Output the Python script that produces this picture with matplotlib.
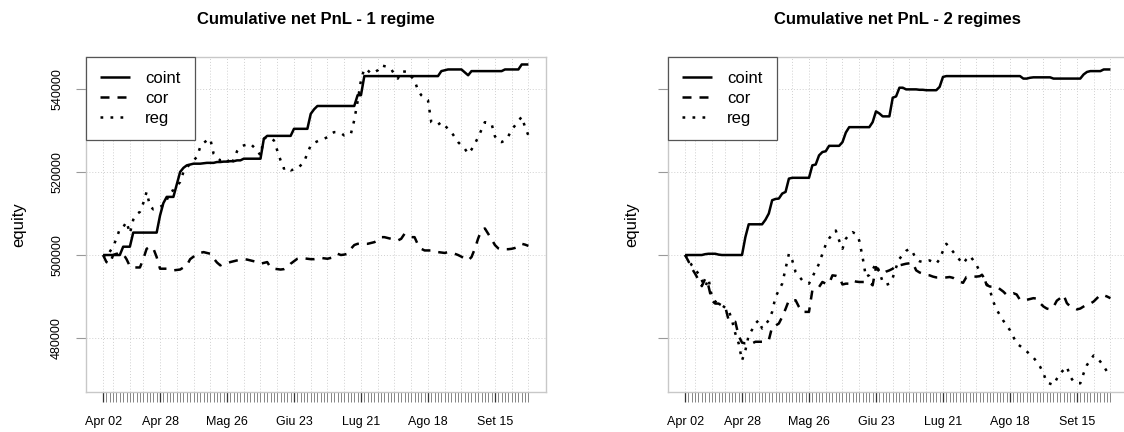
import numpy as np
import pandas as pd
import matplotlib
matplotlib.use('Agg')
import matplotlib.pyplot as plt

plt.rcParams['font.family'] = ['Liberation Sans', 'DejaVu Sans']

# trading days (good friday missing)
dates = pd.bdate_range('2014-04-02', '2014-09-29')
dates = dates[dates != pd.Timestamp('2014-04-18')]

tick_dates = ['2014-04-02', '2014-04-28', '2014-05-26', '2014-06-23',
              '2014-07-21', '2014-08-18', '2014-09-15']
tick_labels = ['Apr 02', 'Apr 28', 'Mag 26', 'Giu 23', 'Lug 21', 'Ago 18', 'Set 15']

series_names = ['coint', 'cor', 'reg']

# equity in thousands, 1 regime
coint_1 = [500.0, 500.0, 500.0, 500.0, 500.0, 500.0, 502.0, 502.0, 502.0, 505.4,
           505.4, 505.4, 505.4, 505.4, 505.4, 505.4, 505.4, 509.5, 512.5, 514.0,
           514.0, 514.0, 517.0, 520.0, 521.0, 521.6, 521.8, 522.0, 522.0, 522.0,
           522.1, 522.2, 522.2, 522.2, 522.4, 522.4, 522.5, 522.5, 522.6, 522.6,
           522.8, 522.8, 523.2, 523.2, 523.2, 523.2, 523.2, 523.2, 528.0, 528.7,
           528.7, 528.7, 528.7, 528.7, 528.7, 528.7, 528.7, 530.4, 530.4, 530.4,
           530.4, 530.4, 534.0, 535.1, 535.9, 535.9, 535.9, 535.9, 535.9, 535.9,
           535.9, 535.9, 535.9, 535.9, 535.9, 535.9, 538.5, 538.5, 543.1, 543.1,
           543.1, 543.1, 543.1, 543.1, 543.1, 543.1, 543.1, 543.1, 543.1, 543.1,
           543.1, 543.1, 543.1, 543.1, 543.1, 543.1, 543.1, 543.1, 543.1, 543.1,
           543.1, 544.3, 544.5, 544.7, 544.7, 544.7, 544.7, 544.7, 544.0, 543.3,
           544.3, 544.3, 544.3, 544.3, 544.3, 544.3, 544.3, 544.3, 544.3, 544.3,
           544.7, 544.7, 544.7, 544.7, 544.7, 545.9, 545.9, 545.9]

cor_1 = [500.0, 498.3, 497.9, 500.0, 500.3, 500.3, 500.3, 499.0, 497.3, 497.0,
         497.0, 497.0, 499.0, 501.5, 502.0, 501.6, 499.5, 496.7, 496.7, 496.7,
         496.5, 496.3, 496.4, 496.5, 497.0, 497.5, 499.0, 499.6, 500.3, 500.5,
         500.7, 500.5, 500.3, 499.2, 498.2, 497.5, 497.9, 498.0, 498.3, 498.5,
         498.7, 498.9, 499.0, 498.9, 498.7, 498.5, 498.3, 497.9, 498.1, 498.3,
         497.0, 496.7, 496.6, 496.5, 496.6, 497.0, 497.9, 498.5, 499.1, 499.3,
         499.2, 499.1, 499.0, 499.0, 499.1, 499.3, 499.2, 499.1, 499.3, 499.5,
         500.3, 500.0, 500.1, 500.3, 501.5, 502.4, 502.7, 502.7, 502.7, 502.7,
         502.9, 503.1, 503.5, 504.3, 504.3, 504.1, 503.9, 503.6, 503.5, 503.9,
         505.1, 504.7, 504.3, 504.3, 502.5, 501.5, 501.1, 501.1, 501.1, 500.9,
         500.7, 500.6, 500.5, 500.7, 500.5, 500.3, 500.0, 499.6, 499.1, 498.7,
         499.5, 501.5, 504.0, 506.0, 506.4, 505.1, 503.8, 502.4, 501.6, 501.3,
         501.4, 501.4, 501.5, 501.7, 502.0, 502.7, 502.5, 502.2]

reg_1 = [500.0, 499.5, 500.8, 502.0, 504.0, 506.3, 506.7, 508.0, 505.2, 508.5,
         509.8, 510.4, 512.5, 515.2, 511.8, 511.0, 511.2, 511.6, 512.0, 513.2,
         515.2, 515.6, 516.5, 517.6, 520.0, 521.0, 522.0, 522.8, 523.6, 526.0,
         527.0, 527.6, 528.0, 524.4, 523.5, 522.8, 523.0, 523.2, 521.6, 523.0,
         525.0, 526.0, 526.4, 526.6, 526.8, 526.0, 525.2, 524.0, 528.0, 528.4,
         528.2, 527.6, 525.2, 522.8, 520.8, 521.2, 520.4, 520.6, 520.8, 521.6,
         522.4, 524.5, 526.4, 527.0, 527.4, 527.8, 528.0, 528.4, 529.2, 529.6,
         529.6, 529.4, 528.8, 529.0, 529.2, 532.5, 537.0, 542.1, 544.9, 544.5,
         543.7, 544.0, 544.5, 545.7, 545.5, 545.3, 544.8, 543.5, 542.5, 544.1,
         544.2, 544.1, 543.0, 542.1, 539.7, 538.5, 537.8, 537.3, 532.0, 531.5,
         531.4, 532.0, 531.2, 530.4, 529.6, 528.4, 527.2, 526.4, 525.6, 524.4,
         525.4, 526.8, 528.4, 530.2, 532.0, 531.8, 531.6, 528.6, 527.4, 527.2,
         527.6, 528.6, 530.2, 531.2, 532.3, 533.3, 530.8, 528.8]

# equity in thousands, 2 regimes
coint_2 = [500.0, 500.0, 500.0, 500.0, 500.0, 500.0, 500.2, 500.3, 500.3, 500.3,
           500.1, 500.0, 500.0, 500.0, 500.0, 500.0, 500.0, 500.0, 504.3, 507.4,
           507.4, 507.4, 507.4, 507.4, 508.5, 510.0, 513.2, 513.5, 513.6, 514.8,
           515.2, 518.4, 518.6, 518.6, 518.6, 518.6, 518.6, 518.6, 521.6, 521.8,
           524.0, 524.8, 525.0, 526.3, 526.3, 526.3, 526.3, 527.2, 529.5, 530.8,
           530.8, 530.8, 530.8, 530.8, 530.8, 530.8, 532.0, 534.6, 534.1, 533.4,
           533.4, 533.4, 537.9, 538.2, 540.3, 540.3, 539.9, 539.9, 539.9, 539.9,
           539.8, 539.8, 539.7, 539.7, 539.7, 539.7, 540.5, 542.9, 543.1, 543.1,
           543.1, 543.1, 543.1, 543.1, 543.1, 543.1, 543.1, 543.1, 543.1, 543.1,
           543.1, 543.1, 543.1, 543.1, 543.1, 543.1, 543.1, 543.1, 543.1, 543.1,
           543.1, 542.5, 542.5, 542.7, 542.8, 542.8, 542.8, 542.8, 542.8, 542.8,
           542.5, 542.5, 542.5, 542.5, 542.5, 542.5, 542.5, 542.5, 542.5, 543.5,
           544.1, 544.3, 544.3, 544.3, 544.3, 544.7, 544.7, 544.7]

cor_2 = [500.0, 498.5, 496.8, 495.5, 494.0, 492.5, 494.3, 492.5, 489.0, 488.3,
         488.3, 487.8, 487.5, 484.3, 484.0, 483.9, 480.5, 478.9, 478.7, 478.7,
         478.7, 479.1, 479.1, 479.1, 479.2, 479.5, 482.7, 483.0, 483.5, 485.1,
         487.0, 489.1, 489.1, 489.1, 487.5, 486.3, 486.3, 486.3, 491.5, 492.0,
         492.3, 493.5, 493.1, 493.1, 495.1, 495.0, 494.7, 492.9, 493.1, 493.1,
         493.9, 493.6, 493.5, 493.5, 493.5, 493.5, 492.7, 497.1, 496.0, 495.5,
         496.0, 496.3, 496.7, 497.5, 497.5, 497.7, 497.9, 498.0, 498.1, 496.3,
         495.8, 495.5, 495.2, 495.1, 494.8, 494.6, 494.6, 494.6, 494.6, 494.7,
         494.5, 493.9, 493.6, 493.3, 494.7, 494.8, 494.8, 494.8, 494.9, 495.4,
         492.8, 492.4, 492.4, 492.4, 491.8, 491.2, 490.4, 490.6, 490.8, 490.5,
         489.2, 489.2, 489.2, 489.4, 489.6, 489.5, 488.4, 487.6, 487.1, 486.9,
         487.5, 489.0, 489.6, 490.4, 488.4, 487.6, 487.3, 486.9, 487.1, 487.6,
         488.1, 488.3, 488.8, 489.6, 490.4, 490.3, 490.0, 489.6]

reg_2 = [500.0, 499.0, 497.5, 496.5, 495.5, 493.9, 492.3, 494.3, 489.9, 488.8,
         488.3, 487.9, 487.3, 486.7, 484.3, 481.1, 478.7, 474.6, 477.0, 480.7,
         482.0, 483.5, 484.3, 482.3, 483.3, 484.3, 486.3, 489.9, 491.5, 493.1,
         496.7, 500.3, 498.7, 495.9, 494.9, 493.9, 493.5, 493.1, 494.7, 496.3,
         497.9, 500.3, 502.5, 504.0, 505.0, 505.9, 503.5, 501.5, 503.9, 505.0,
         505.5, 505.1, 503.5, 499.5, 494.7, 495.2, 496.5, 497.9, 496.0, 493.5,
         492.8, 493.1, 494.5, 497.0, 499.1, 500.0, 501.0, 501.5, 500.6, 499.0,
         498.5, 498.3, 498.5, 498.7, 498.3, 497.9, 499.0, 501.0, 502.7, 501.8,
         500.8, 499.8, 498.8, 497.9, 499.0, 499.8, 498.8, 497.6, 496.0, 494.8,
         493.2, 491.6, 488.8, 486.9, 485.5, 484.2, 483.0, 481.9, 480.3, 478.7,
         478.1, 477.5, 476.8, 476.0, 475.3, 474.3, 473.1, 471.5, 469.3, 469.0,
         468.7, 470.2, 471.5, 472.3, 473.1, 470.7, 469.5, 469.1, 469.1, 471.5,
         473.5, 474.7, 475.8, 475.2, 474.3, 473.2, 471.9, 470.7]

yticks = [480000, 500000, 520000, 540000]

styles = ['-', (0, (3.6, 3.2)), (0, (1.1, 2.9))]
grey = '#c8c8c8'

x = np.arange(len(dates))
tick_pos = [dates.get_loc(pd.Timestamp(d)) for d in tick_dates]
mondays = [i for i, d in enumerate(dates) if d.weekday() == 0]


def draw_panel(ax, data, title, show_ylabels):
    for vals, ls, name in zip(data, styles, series_names):
        ax.plot(x, np.array(vals) * 1000, color='black', lw=1.8, linestyle=ls,
                label=name, solid_capstyle='butt', dash_capstyle='butt')

    ax.set_xlim(-5.1, 132.1)
    ax.set_ylim(467000, 547700)

    # grid
    for p in [0] + mondays:
        ax.axvline(p, color='#d0d0d0', lw=0.7, linestyle=(0, (1, 2)), zorder=0)
    for v in yticks:
        ax.axhline(v, color='#d0d0d0', lw=0.7, linestyle=(0, (1, 2)), zorder=0)

    for s in ax.spines.values():
        s.set_color(grey)
        s.set_linewidth(1.0)

    ax.set_xticks(tick_pos)
    ax.set_xticklabels(tick_labels, fontsize=9)
    ax.set_xticks(x, minor=True)
    ax.tick_params(axis='x', which='major', length=7.5, width=0.9, color='#333333', pad=10)
    ax.tick_params(axis='x', which='minor', length=7.5, width=0.5, color='#555555')

    ax.set_yticks(yticks)
    ax.tick_params(axis='y', length=7.5, width=0.8, color='#999999', pad=9)
    if show_ylabels:
        ax.set_yticklabels([str(v) for v in yticks], fontsize=9, rotation=90, va='center')
    else:
        ax.set_yticklabels([])

    ax.set_title(title, fontsize=12, fontweight='bold', pad=24)

    leg = ax.legend(loc='upper left', fontsize=12, handlelength=1.8, handletextpad=0.9,
                    labelspacing=0.28, borderaxespad=0, borderpad=0.85, fancybox=False,
                    framealpha=1)
    leg.get_frame().set_edgecolor('#555555')
    leg.get_frame().set_linewidth(0.9)


fig = plt.figure(figsize=(11.24, 4.32), dpi=100)
ax1 = fig.add_axes([86 / 1124, 40 / 432, 459.5 / 1124, 335 / 432])
ax2 = fig.add_axes([668 / 1124, 40 / 432, 459.5 / 1124, 335 / 432])

draw_panel(ax1, [coint_1, cor_1, reg_1], 'Cumulative net PnL - 1 regime', True)
draw_panel(ax2, [coint_2, cor_2, reg_2], 'Cumulative net PnL - 2 regimes', False)

fig.text(19 / 1124, 1 - 224.5 / 432, 'equity', rotation=90, fontsize=12, ha='center', va='center')
fig.text(632 / 1124, 1 - 224.5 / 432, 'equity', rotation=90, fontsize=12, ha='center', va='center')

fig.savefig('out.png', dpi=100)
